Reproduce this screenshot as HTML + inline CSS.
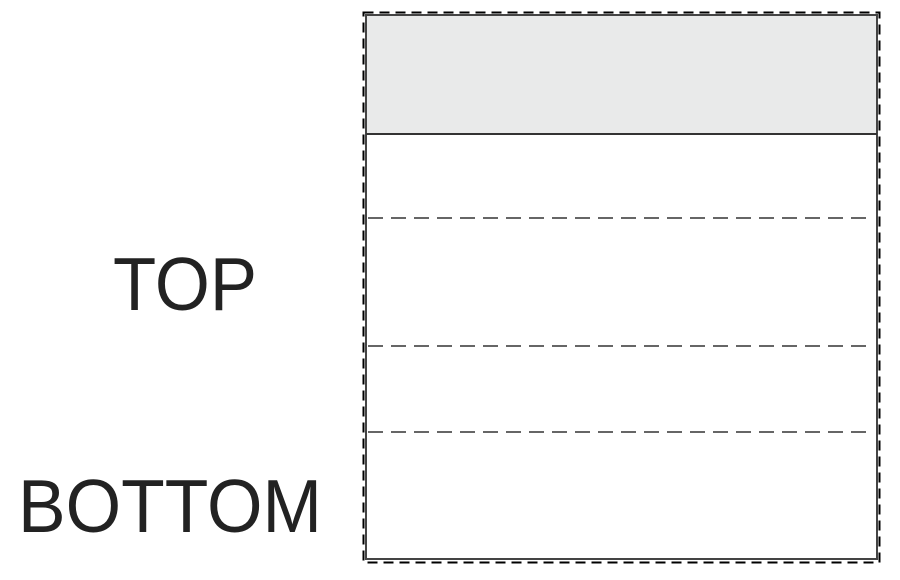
<!DOCTYPE html>
<html><head><style>
body{margin:0;background:#fff;}
</style></head><body>
<svg width="900" height="575" xmlns="http://www.w3.org/2000/svg">
<rect x="0" y="0" width="900" height="575" fill="#fff"/>
<rect x="366" y="15" width="511" height="119" fill="#e9eaea"/>
<rect x="366" y="15" width="511" height="544" fill="none" stroke="#444" stroke-width="2"/>
<line x1="366" y1="134" x2="877" y2="134" stroke="#333" stroke-width="2"/>
<g stroke="#333" stroke-width="1.5" stroke-dasharray="15 8">
<line x1="368" y1="218" x2="870" y2="218"/>
<line x1="368" y1="346" x2="870" y2="346"/>
<line x1="368" y1="432" x2="870" y2="432"/>
</g>
<rect x="363.5" y="12.5" width="516" height="550" fill="none" stroke="#000" stroke-width="2" stroke-dasharray="10 6"/>
<g font-family="Liberation Sans, sans-serif" fill="#222" font-size="75">
<text x="113" y="310" textLength="144" lengthAdjust="spacingAndGlyphs">TOP</text>
<text x="18" y="532" textLength="304" lengthAdjust="spacingAndGlyphs">BOTTOM</text>
</g>
</svg>
</body></html>
